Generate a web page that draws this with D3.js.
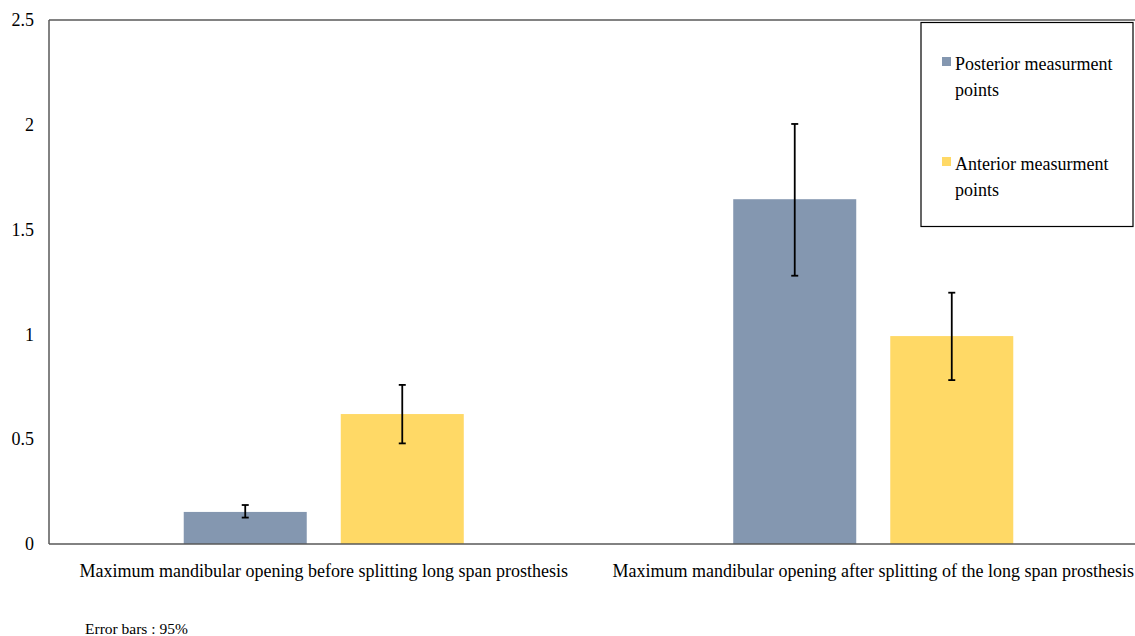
<!DOCTYPE html>
<html>
<head>
<meta charset="utf-8">
<script src="https://cdn.jsdelivr.net/npm/d3@7"></script>
<style>
  html, body { margin: 0; padding: 0; background: #fff; }
  svg { display: block; }
  svg text { font-family: "Liberation Serif", "Times New Roman", serif !important; fill: #000; }
</style>
</head>
<body>
<svg id="chart" width="1135" height="636"></svg>
<script>
// Groups along the x axis
const categories = [
  "Maximum mandibular opening before splitting long span prosthesis",
  "Maximum mandibular opening after splitting of the long span prosthesis"
];
// Series shown in each group
const seriesNames = ["Posterior measurment points", "Anterior measurment points"];
const seriesColors = ["#8497B0", "#FFD966"];
// Mean values per series (one entry per category)
const posteriorMeans = [0.153, 1.645];
const anteriorMeans  = [0.62, 0.992];
// 95% confidence limits per series
const posteriorLower = [0.126, 1.28];
const posteriorUpper = [0.186, 2.004];
const anteriorLower  = [0.48, 0.782];
const anteriorUpper  = [0.759, 1.199];
// Y axis ticks
const yTicks = [0, 0.5, 1, 1.5, 2, 2.5];
const yTickLabels = ["0", "0.5", "1", "1.5", "2", "2.5"];

const serif = "'Liberation Serif', 'Times New Roman', serif";

const series = [
  { name: seriesNames[0], color: seriesColors[0], mean: posteriorMeans, lo: posteriorLower, hi: posteriorUpper },
  { name: seriesNames[1], color: seriesColors[1], mean: anteriorMeans,  lo: anteriorLower,  hi: anteriorUpper }
];

const svg = d3.select("#chart");
const plot = { left: 49, right: 1148, top: 20, bottom: 544 };

const x0 = d3.scaleBand().domain(categories).range([plot.left, plot.right]).paddingInner(0).paddingOuter(0);
const x1 = d3.scaleBand().domain(seriesNames).range([0, x0.bandwidth()]).paddingInner(0.2166).paddingOuter(0.858);
const y = d3.scaleLinear().domain([0, 2.5]).range([plot.bottom, plot.top]);

// Bars
const groups = svg.append("g").selectAll("g")
  .data(categories)
  .join("g")
  .attr("transform", d => `translate(${x0(d)},0)`);

series.forEach(s => {
  groups.append("rect")
    .attr("x", x1(s.name))
    .attr("width", x1.bandwidth())
    .attr("y", (d, i) => y(s.mean[i]))
    .attr("height", (d, i) => y(0) - y(s.mean[i]))
    .attr("fill", s.color);
});

// Error bars
const capHalf = 3.5;
series.forEach(s => {
  const cx = x1(s.name) + x1.bandwidth() / 2;
  const eb = groups.append("g").attr("stroke", "#000").attr("stroke-width", 1.8);
  eb.append("line").attr("x1", cx).attr("x2", cx)
    .attr("y1", (d, i) => y(s.lo[i])).attr("y2", (d, i) => y(s.hi[i]));
  eb.append("line").attr("x1", cx - capHalf).attr("x2", cx + capHalf)
    .attr("y1", (d, i) => y(s.hi[i])).attr("y2", (d, i) => y(s.hi[i]));
  eb.append("line").attr("x1", cx - capHalf).attr("x2", cx + capHalf)
    .attr("y1", (d, i) => y(s.lo[i])).attr("y2", (d, i) => y(s.lo[i]));
});

// Frame lines: left axis, top border, baseline
const frame = svg.append("g").attr("stroke", "#595959").attr("stroke-width", 1.5).attr("fill", "none");
frame.append("line").attr("x1", plot.left).attr("x2", plot.left).attr("y1", plot.top).attr("y2", plot.bottom);
frame.append("line").attr("x1", plot.left).attr("x2", 1135).attr("y1", plot.top).attr("y2", plot.top);
frame.append("line").attr("x1", plot.left).attr("x2", 1135).attr("y1", plot.bottom).attr("y2", plot.bottom);

// Y axis labels
const yAxis = d3.axisLeft(y).tickValues(yTicks).tickFormat((d, i) => yTickLabels[i]).tickSize(0).tickPadding(15);
const yg = svg.append("g").attr("transform", `translate(${plot.left},0)`).call(yAxis)
  .attr("font-family", null).attr("font-size", null);
yg.select(".domain").remove();
yg.selectAll("text").style("font-family", serif).style("font-size", "18px").attr("fill", "#000");

// Category labels
const xAxis = d3.axisBottom(x0).tickSize(0).tickPadding(20);
const xg = svg.append("g").attr("transform", `translate(0,${plot.bottom})`).call(xAxis)
  .attr("font-family", null).attr("font-size", null);
xg.select(".domain").remove();
xg.selectAll("text").style("font-family", serif).style("font-size", "18px").attr("fill", "#000");

// Note below the chart
svg.append("text").attr("x", 85).attr("y", 634).style("font-family", serif).style("font-size", "15.5px")
  .text("Error bars : 95%");

// Legend
const legend = svg.append("g");
legend.append("rect").attr("x", 921).attr("y", 22.5).attr("width", 212).attr("height", 204)
  .attr("fill", "#fff").attr("stroke", "#000").attr("stroke-width", 1.2);
const legendRows = [
  { lines: ["Posterior measurment", "points"], y: 70 },
  { lines: ["Anterior measurment", "points"], y: 170 }
];
series.forEach((s, i) => {
  const row = legendRows[i];
  legend.append("rect").attr("x", 942).attr("y", row.y - 13).attr("width", 9).attr("height", 9).attr("fill", s.color);
  row.lines.forEach((ln, j) => {
    legend.append("text").attr("x", 955).attr("y", row.y + j * 26)
      .style("font-family", serif).style("font-size", "18px").text(ln);
  });
});
</script>
</body>
</html>
